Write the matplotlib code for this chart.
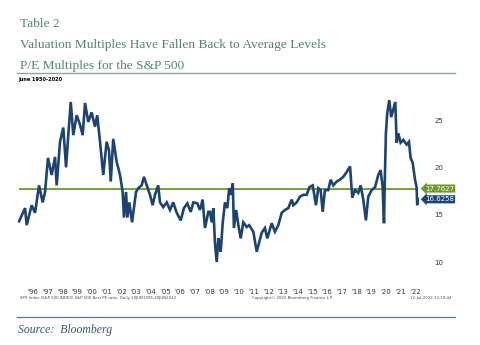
import numpy as np
import matplotlib.pyplot as plt

# S&P 500 best P/E (decimal year, ratio)
dates = [1995.54, 1995.95, 1996.06, 1996.40, 1996.63, 1996.90, 1997.15, 1997.31,
         1997.51, 1997.76, 1997.99, 1998.10, 1998.33, 1998.55, 1998.74, 1998.89,
         1999.06, 1999.23, 1999.46, 1999.69, 1999.87, 2000.03, 2000.25, 2000.48,
         2000.71, 2000.86, 2001.05, 2001.27, 2001.50, 2001.66, 2001.78, 2001.95,
         2002.18, 2002.41, 2002.59, 2002.68, 2002.82, 2002.91, 2003.04, 2003.23,
         2003.50, 2003.65, 2003.88, 2004.04, 2004.23, 2004.45, 2004.63, 2004.79,
         2005.01, 2005.13, 2005.35, 2005.59, 2005.81, 2006.03, 2006.27, 2006.54,
         2006.76, 2006.99, 2007.22, 2007.40, 2007.67, 2007.85, 2008.03, 2008.19,
         2008.42, 2008.53, 2008.65, 2008.76, 2008.87, 2008.99, 2009.10, 2009.16,
         2009.26, 2009.40, 2009.55, 2009.71, 2009.84, 2009.94, 2010.08, 2010.16,
         2010.31, 2010.46, 2010.62, 2010.80, 2011.03, 2011.20, 2011.48, 2011.71,
         2011.88, 2012.05, 2012.27, 2012.43, 2012.73, 2012.95, 2013.18, 2013.41,
         2013.63, 2013.86, 2014.09, 2014.20, 2014.43, 2014.65, 2014.88, 2015.11,
         2015.29, 2015.52, 2015.74, 2015.90, 2016.06, 2016.20, 2016.35, 2016.58,
         2016.74, 2016.92, 2017.15, 2017.37, 2017.60, 2017.83, 2018.06, 2018.21,
         2018.40, 2018.62, 2018.78, 2018.96, 2019.14, 2019.30, 2019.53, 2019.76,
         2019.98, 2020.14, 2020.28, 2020.37, 2020.44, 2020.50, 2020.59, 2020.73,
         2020.86, 2021.00, 2021.14, 2021.23, 2021.34, 2021.50, 2021.68, 2021.91,
         2022.07, 2022.18, 2022.32, 2022.48, 2022.59, 2022.63, 2022.65]
pe = [14.3, 15.7, 13.9, 16.0, 15.2, 18.1, 16.3, 17.4,
      21.0, 19.2, 21.1, 18.1, 22.7, 24.2, 20.0, 23.4,
      26.9, 23.4, 25.5, 24.5, 23.4, 26.8, 24.8, 25.8,
      24.3, 25.5, 22.7, 19.2, 22.7, 21.8, 18.5, 23.0,
      20.6, 19.2, 17.4, 14.7, 17.4, 14.7, 16.3, 14.2,
      17.4, 17.8, 18.1, 19.0, 18.1, 17.1, 16.0, 17.1,
      18.1, 16.3, 15.8, 16.3, 15.5, 16.3, 15.2, 14.4,
      15.7, 16.2, 15.3, 16.3, 16.2, 15.5, 16.6, 13.6,
      15.3, 15.3, 14.2, 15.7, 12.0, 10.0, 12.5, 12.1,
      11.1, 14.2, 16.3, 15.7, 17.8, 17.1, 18.3, 13.6,
      15.5, 13.9, 12.5, 14.2, 13.7, 13.9, 13.2, 11.1,
      12.1, 13.1, 13.6, 12.5, 14.1, 13.2, 13.9, 15.2,
      15.5, 15.7, 16.6, 16.0, 16.3, 16.9, 17.1, 17.1,
      17.9, 18.1, 16.0, 17.8, 17.6, 15.3, 17.6, 17.6,
      18.7, 18.1, 18.5, 18.7, 19.0, 19.5, 20.1, 16.8,
      17.6, 17.3, 18.1, 16.6, 14.4, 16.9, 17.6, 17.9,
      19.2, 19.7, 17.9, 14.1, 19.7, 23.6, 25.7, 27.1,
      25.3, 26.1, 26.9, 22.6, 23.6, 22.6, 22.9, 22.4,
      22.7, 21.0, 20.5, 18.7, 17.9, 16.0, 16.6258]
average = 17.7627
last = 16.6258

years = list(range(1996, 2023))
year_labels = ["'%02d" % (y % 100) for y in years]
y_ticks = [10, 15, 20, 25]

navy = '#1d4470'
green = '#6b9a2c'
title_col = '#55836f'

fig = plt.figure(figsize=(4.8, 3.45), dpi=100)

fig.text(20/480, 1 - 27/345, 'Table 2', family='Liberation Serif',
         fontsize=9.6, color=title_col)
fig.text(20/480, 1 - 48/345, 'Valuation Multiples Have Fallen Back to Average Levels',
         family='Liberation Serif', fontsize=9.6, color=title_col)
fig.text(20/480, 1 - 69/345, 'P/E Multiples for the S&P 500',
         family='Liberation Serif', fontsize=9.6, color=title_col)
fig.add_artist(plt.Line2D([17/480, 455/480], [1 - 73/345, 1 - 73/345],
                          color='#8aa898', lw=1.0))
fig.text(18/480, 1 - 80/345, 'June 1950-2020', fontsize=3.6, weight='bold',
         color='black', va='center')

ax = fig.add_axes([18/480, 1 - 285/345, 412/480, 190/345])
ax.set_xlim(1995.47, 2023.50)
ax.set_ylim(7.58, 27.64)

ax.hlines(average, dates[0], dates[-1], color=green, lw=1.3, zorder=2)
ax.plot(dates, pe, color=navy, lw=1.9, zorder=3, solid_joinstyle='miter')

ax.set_xticks([y + 0.5 for y in years])
ax.set_xticklabels(year_labels)
ax.set_yticks(y_ticks)
ax.yaxis.tick_right()
ax.tick_params(axis='both', length=0, labelsize=5, colors='#333333')
ax.tick_params(axis='x', pad=3)
ax.tick_params(axis='y', pad=3)
for s in ax.spines.values():
    s.set_visible(False)

ax.annotate('%.4f' % average, xy=(0.988, average), xycoords=('axes fraction', 'data'),
            fontsize=5, color='white', va='center', ha='left',
            bbox=dict(boxstyle='larrow,pad=0.15', fc=green, ec='none'))
ax.annotate('%.4f' % last, xy=(0.988, last), xycoords=('axes fraction', 'data'),
            fontsize=5, color='white', va='center', ha='left',
            bbox=dict(boxstyle='larrow,pad=0.15', fc=navy, ec='none'))

fig.text(20/480, 1 - 298/345,
         'SPX Index (S&P 500 INDEX) S&P 500 Best PE ratio  Daily 20JUN1995-20JUN2022',
         fontsize=2.8, color='#444444', va='center')
fig.text(252/480, 1 - 298/345, 'Copyright\u00a9 2022 Bloomberg Finance L.P.',
         fontsize=2.8, color='#444444', va='center')
fig.text(452/480, 1 - 298/345, '12-Jul-2022 22:19:44',
         fontsize=2.8, color='#444444', va='center', ha='right')

fig.add_artist(plt.Line2D([17/480, 455/480], [1 - 317/345, 1 - 317/345],
                          color='#5a7898', lw=0.9))
fig.text(18/480, 1 - 330/345, 'Source:  Bloomberg', family='Liberation Serif',
         style='italic', fontsize=8.5, color='#35577a', va='center')

fig.savefig('out.png', dpi=100)
